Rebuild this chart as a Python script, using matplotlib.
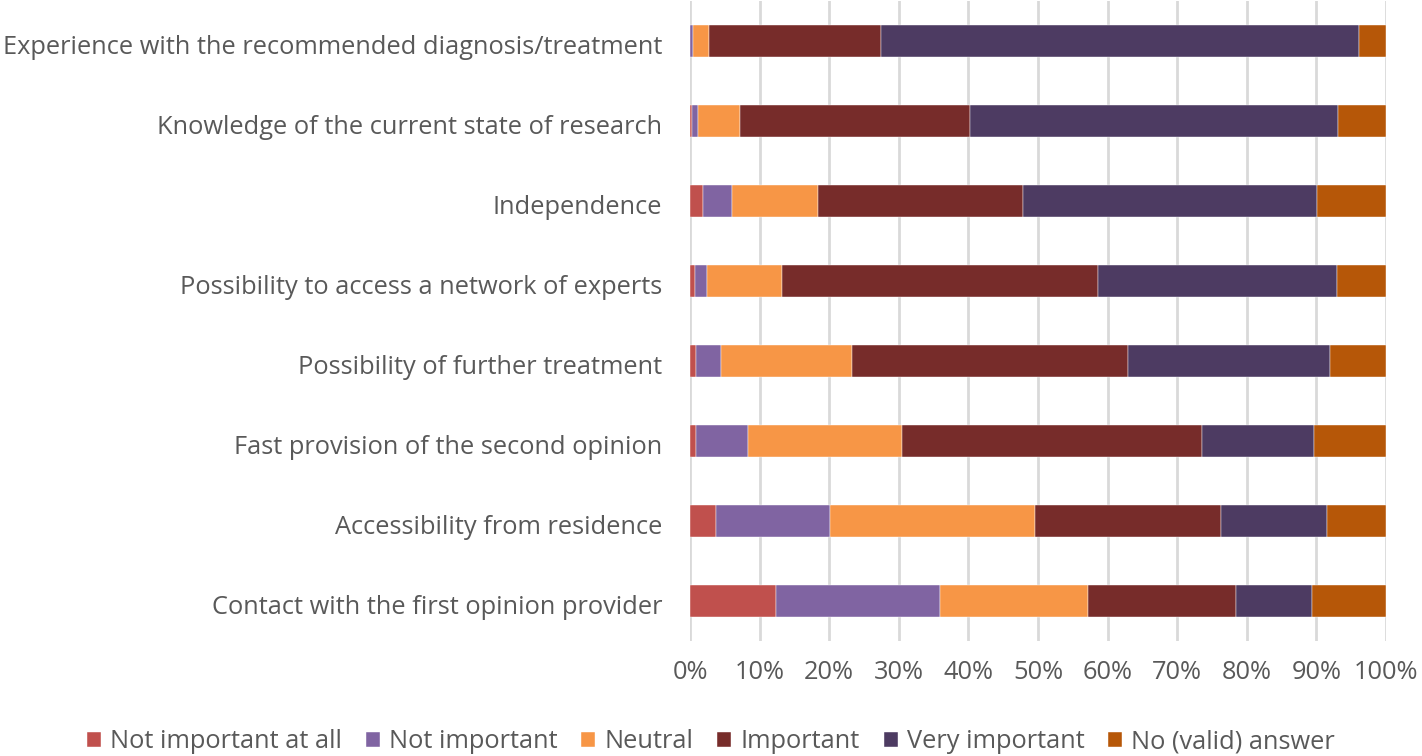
import matplotlib
matplotlib.use('Agg')
import matplotlib.pyplot as plt
import matplotlib.transforms as mtransforms
import numpy as np

categories = [
    'Experience with the recommended diagnosis/treatment',
    'Knowledge of the current state of research',
    'Independence',
    'Possibility to access a network of experts',
    'Possibility of further treatment',
    'Fast provision of the second opinion',
    'Accessibility from residence',
    'Contact with the first opinion provider',
]
series_names = ['Not important at all', 'Not important', 'Neutral',
                'Important', 'Very important', 'No (valid) answer']
not_important_at_all = [0.0, 0.3, 1.8, 0.75, 0.85, 0.9, 3.8, 12.4]
not_important = [0.5, 0.9, 4.2, 1.75, 3.65, 7.4, 16.3, 23.5]
neutral = [2.3, 6.0, 12.4, 10.7, 18.8, 22.2, 29.4, 21.3]
important = [24.6, 33.1, 29.4, 45.4, 39.7, 43.0, 26.8, 21.2]
very_important = [68.7, 52.8, 42.3, 34.4, 29.0, 16.2, 15.2, 10.9]
no_answer = [3.9, 6.9, 9.9, 7.0, 8.0, 10.3, 8.5, 10.7]
x_ticks = [0, 10, 20, 30, 40, 50, 60, 70, 80, 90, 100]

colors = ['#C0504D', '#8064A2', '#F79646', '#772C2A', '#4D3B62', '#B65708']
data = [not_important_at_all, not_important, neutral, important, very_important, no_answer]

plt.rcParams['font.family'] = ['Open Sans', 'DejaVu Sans']
txt = '#595959'
fs = 18.3

fig = plt.figure(figsize=(14.22, 7.56), dpi=100)
ax = fig.add_axes([690 / 1422, 1 - 641 / 756, 696 / 1422, 640 / 756])

y = np.arange(len(categories))
left = np.zeros(len(categories))
for name, vals, c in zip(series_names, data, colors):
    vals = np.array(vals)
    ax.barh(y, vals, left=left, height=0.4, color=c, label=name,
            edgecolor='white', linewidth=0.3, zorder=3)
    left += vals

ax.set_xlim(0, 100)
ax.set_ylim(len(categories) - 0.5, -0.5)
ax.set_yticks(y)
ax.set_yticklabels(categories, fontsize=fs, color=txt)
ax.set_xticks(x_ticks)
ax.set_xticklabels([f'{v}%' for v in x_ticks], fontsize=fs, color=txt)
ax.tick_params(axis='both', length=0)
ax.tick_params(axis='x', pad=14)
ax.tick_params(axis='y', pad=20)
# labels sit a few pixels below the bar centre in the original
shift = mtransforms.ScaledTranslation(0, -3 / 100, fig.dpi_scale_trans)
for lab in ax.get_yticklabels():
    lab.set_transform(lab.get_transform() + shift)
ax.grid(True, axis='x', color='#D9D9D9', linewidth=2, zorder=0)
for s in ax.spines.values():
    s.set_visible(False)

leg = fig.legend(loc='center', bbox_to_anchor=(0.5, 1 - 742 / 756), ncol=6,
                 frameon=False, fontsize=fs, handlelength=0.55, handleheight=0.55,
                 handletextpad=0.35, columnspacing=0.95)
for t in leg.get_texts():
    t.set_color(txt)

fig.savefig('out.png', dpi=100)
